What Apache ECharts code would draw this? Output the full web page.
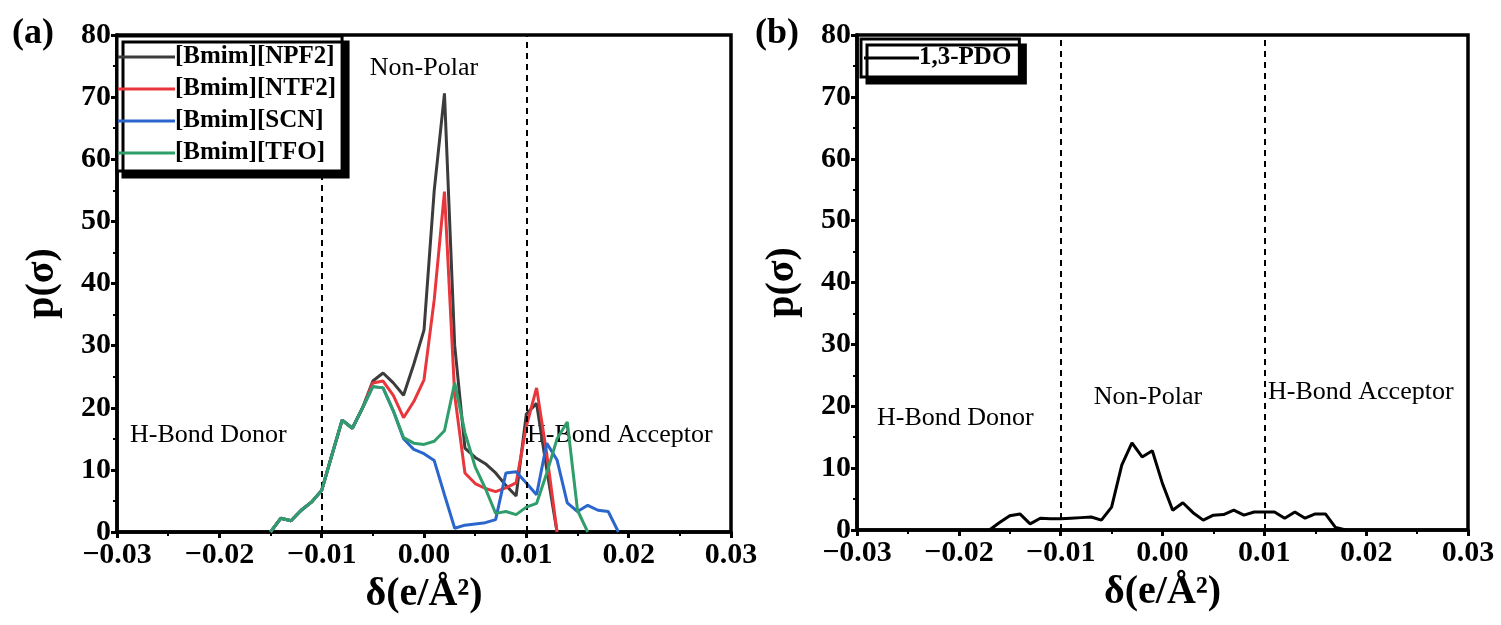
<!DOCTYPE html>
<html><head><meta charset="utf-8">
<script src="https://cdn.jsdelivr.net/npm/echarts@6/dist/echarts.min.js"></script>
<style>html,body{margin:0;padding:0;background:#fff}#c{width:1501px;height:625px}</style>
</head><body><div id="c"></div><script>
// ---- data (a) ----
const sigmaA = [-0.015,-0.014,-0.013,-0.012,-0.011,-0.010,-0.009,-0.008,-0.007,-0.006,-0.005,-0.004,-0.003,-0.002,-0.001,0.000,0.001,0.002,0.003,0.004,0.005,0.006,0.007,0.008,0.009,0.010,0.011,0.012,0.013,0.014,0.015,0.016,0.017,0.018,0.019];
const npf2 = [0,2.2,1.8,3.5,4.8,6.7,12.4,18,16.7,20,24.3,25.6,24,22,27,32.5,55,70.6,30,13.5,12,11,9.5,7.5,5.8,19,20.7,10,0,null,null,null,null,null,null];
const ntf2 = [0,2.2,1.8,3.5,4.8,6.7,12.4,18,16.7,20,24,24.3,22,18.4,21,24.5,37.4,54.8,22,9.5,7.8,7,6.5,7.1,7.9,17,23.2,12.5,0,null,null,null,null,null,null];
const scn  = [0,2.2,1.8,3.5,4.8,6.7,12.4,18,16.7,20,23.4,23.2,19.5,15,13.3,12.6,11.5,6,0.6,1.1,1.3,1.5,2,9.5,9.7,7.9,6,14.3,11.6,4.7,3.3,4.3,3.5,3.3,0];
const tfo  = [0,2.2,1.8,3.5,4.8,6.7,12.4,18,16.7,20,23.4,23.2,19.5,15.2,14.3,14.1,14.6,16.3,24,16,10.5,7,3,3.3,2.8,4,4.6,9.5,15,17.7,3.5,0,null,null,null];
const namesA = ['[Bmim][NPF2]','[Bmim][NTF2]','[Bmim][SCN]','[Bmim][TFO]'];
// ---- data (b) ----
const sigmaB = [-0.017,-0.016,-0.015,-0.014,-0.013,-0.012,-0.011,-0.010,-0.009,-0.008,-0.007,-0.006,-0.005,-0.004,-0.003,-0.002,-0.001,0.000,0.001,0.002,0.003,0.004,0.005,0.006,0.007,0.008,0.009,0.010,0.011,0.012,0.013,0.014,0.015,0.016,0.017,0.018];
const pdo = [0,1.2,2.3,2.6,1.0,1.9,1.8,1.8,1.9,2.0,2.1,1.6,3.7,10.5,14.1,11.8,12.8,7.5,3.2,4.4,2.8,1.6,2.4,2.5,3.2,2.4,2.9,2.9,2.9,1.9,2.9,1.9,2.6,2.6,0.4,0];
const nameB = '1,3-PDO';
const xTicks = {min:-0.03, max:0.03, interval:0.01};
const yTicks = {min:0, max:80, interval:10};
const boundaries = [-0.01, 0.01];

const SERIF = 'Liberation Serif';
const colorsA = ['#3c3c3c','#e8373c','#2a66cc','#2f9e6b'];

function pairs(xs, ys){ const out=[]; for(let i=0;i<xs.length;i++){ if(ys[i]!==null) out.push([xs[i], ys[i]]);} return out; }
function fmtX(v){ const s=Math.abs(v).toFixed(2); return (v < -1e-9 ? '\u2212' : '') + s; }

function xAxis(gi){
  return {type:'value', gridIndex:gi, min:xTicks.min, max:xTicks.max, interval:xTicks.interval,
    name:'δ(e/Å²)', nameLocation:'middle', nameGap:36,
    nameTextStyle:{fontFamily:SERIF, fontWeight:'bold', fontSize:40, color:'#000'},
    axisLine:{show:true, onZero:false, lineStyle:{color:'#000', width:3.5}},
    axisTick:{show:true, inside:false, length:6, lineStyle:{color:'#000', width:3}},
    minorTick:{show:true, splitNumber:2, length:4, lineStyle:{color:'#000', width:2}},
    splitLine:{show:false}, minorSplitLine:{show:false},
    axisLabel:{formatter:fmtX, fontFamily:SERIF, fontWeight:'bold', fontSize:30, color:'#000', margin:8}};
}
function yAxis(gi){
  return {type:'value', gridIndex:gi, min:yTicks.min, max:yTicks.max, interval:yTicks.interval,
    name:'p(σ)', nameLocation:'middle', nameGap:54, nameRotate:90,
    nameTextStyle:{fontFamily:SERIF, fontWeight:'bold', fontSize:40, color:'#000'},
    axisLine:{show:true, onZero:false, lineStyle:{color:'#000', width:3.5}},
    axisTick:{show:true, inside:false, length:6, lineStyle:{color:'#000', width:3}},
    minorTick:{show:true, splitNumber:2, length:4, lineStyle:{color:'#000', width:2}},
    splitLine:{show:false}, minorSplitLine:{show:false},
    axisLabel:{fontFamily:SERIF, fontWeight:'bold', fontSize:30, color:'#000', margin:6}};
}
function markLines(){
  return {silent:true, symbol:['none','none'], label:{show:false},
    lineStyle:{color:'#000', type:[6,5], width:2},
    data: boundaries.map(b=>({xAxis:b}))};
}
const seriesA = [npf2, ntf2, scn, tfo].map((arr,i)=>({
  type:'line', name:namesA[i], xAxisIndex:0, yAxisIndex:0, data:pairs(sigmaA, arr),
  showSymbol:false, symbol:'none', connectNulls:false, lineStyle:{width:3, color:colorsA[i]}, itemStyle:{color:colorsA[i]},
  z: 2+i, markLine: i===0 ? markLines() : undefined
}));
const seriesB = [{type:'line', name:nameB, xAxisIndex:1, yAxisIndex:1, data:pairs(sigmaB, pdo),
  showSymbol:false, symbol:'none', lineStyle:{width:3, color:'#000'}, itemStyle:{color:'#000'}, markLine:markLines()}];

function txt(x,y,t,opt){ return Object.assign({type:'text', x:x, y:y, style:Object.assign({text:t, fontFamily:SERIF, fontSize:26, fill:'#000', textVerticalAlign:'middle'}, opt||{})}); }

const legendCommon = {orient:'vertical', icon:'rect', itemHeight:3, itemWidth:57, itemGap:6,
  textStyle:{fontFamily:SERIF, fontWeight:'bold', fontSize:25, color:'#000', lineHeight:26, padding:[0,0,0,-5]},
  borderColor:'#000', borderWidth:3, backgroundColor:'#fff', borderRadius:0,
  shadowColor:'#000', shadowBlur:0, shadowOffsetX:6, shadowOffsetY:6, z:10};

const option = {
  animation:false, backgroundColor:'#fff',
  grid:[
    {left:117, right:1501-731, top:35, bottom:625-532, show:true, borderColor:'#000', borderWidth:3.5, backgroundColor:'transparent'},
    {left:857, right:1501-1468, top:35, bottom:625-530, show:true, borderColor:'#000', borderWidth:3.5, backgroundColor:'transparent'}
  ],
  xAxis:[xAxis(0), xAxis(1)],
  yAxis:[yAxis(0), yAxis(1)],
  legend:[
    Object.assign({}, legendCommon, {data:namesA, left:117, top:36, padding:[8,6,5,1]}),
    Object.assign({}, legendCommon, {data:[nameB], left:861, top:39, padding:[6,8,6,3], itemWidth:55})
  ],
  series: seriesA.concat(seriesB),
  graphic:[
    txt(12, 34, '(a)', {fontWeight:'bold', fontSize:36}),
    txt(755, 34, '(b)', {fontWeight:'bold', fontSize:36}),
    txt(424, 68, 'Non-Polar', {textAlign:'center'}),
    txt(130, 435, 'H-Bond Donor'),
    txt(527, 435, 'H-Bond Acceptor'),
    txt(877, 418, 'H-Bond Donor'),
    txt(1148, 397, 'Non-Polar', {textAlign:'center'}),
    txt(1268, 392, 'H-Bond Acceptor')
  ]
};
const chart = echarts.init(document.getElementById('c'), null, {renderer:'canvas'});
chart.setOption(option);
</script></body></html>
